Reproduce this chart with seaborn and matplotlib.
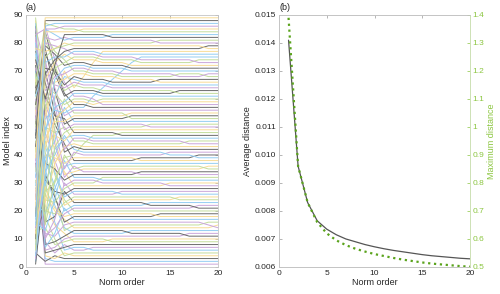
import numpy as np
import pandas as pd
import matplotlib
matplotlib.use("Agg")
import matplotlib.pyplot as plt
import seaborn as sns

# --- DATA ---
norm_order = list(range(1, 21))

# panel (b)
avg_distance = [0.0141, 0.0096, 0.0083, 0.00765, 0.00735, 0.00715, 0.0070, 0.0069,
                0.0068, 0.00672, 0.00665, 0.00659, 0.00654, 0.00649, 0.00644,
                0.0064, 0.00637, 0.00634, 0.00631, 0.00629]
max_distance = [1.39, 0.86, 0.73, 0.66, 0.62, 0.595, 0.578, 0.565, 0.555, 0.546,
                0.539, 0.532, 0.526, 0.521, 0.516, 0.512, 0.509, 0.506, 0.503, 0.501]

# panel (a): rank of each model (models numbered by their rank at norm order 5)
rank_p1 = [44, 70, 5, 88, 21, 60, 2, 37, 79, 13,
           52, 28, 66, 9, 84, 33, 48, 1, 75, 19,
           57, 40, 86, 11, 63, 26, 49, 72, 7, 35,
           81, 16, 54, 42, 69, 3, 23, 77, 30, 59,
           14, 87, 46, 67, 25, 38, 80, 10, 56, 31,
           73, 4, 62, 20, 45, 85, 29, 51, 12, 68,
           36, 76, 18, 55, 41, 82, 8, 64, 27, 50,
           71, 15, 58, 34, 89, 24, 61, 43, 78, 6,
           53, 32, 74, 22, 65, 83, 17, 47, 39]
rank_p2 = [1, 3, 2, 4, 18, 9, 30, 5, 22, 14,
           6, 35, 8, 26, 41, 12, 7, 33, 28, 45,
           11, 38, 16, 52, 20, 10, 43, 31, 57, 24,
           48, 13, 37, 62, 27, 55, 19, 66, 40, 15,
           58, 34, 70, 23, 50, 74, 29, 61, 44, 17,
           68, 39, 78, 46, 25, 72, 53, 84, 36, 64,
           86, 49, 76, 42, 81, 59, 32, 71, 54, 83,
           63, 47, 79, 67, 56, 80, 73, 69, 77, 75,
           82, 85, 60, 84, 87, 85, 86, 88, 89]
rank_p3 = [1, 2, 4, 3, 10, 5, 16, 6, 15, 8,
           7, 22, 9, 20, 26, 11, 12, 25, 21, 33,
           14, 29, 18, 36, 19, 17, 34, 27, 41, 23,
           38, 24, 35, 46, 30, 44, 28, 51, 39, 31,
           49, 40, 55, 37, 48, 58, 42, 54, 47, 43,
           59, 45, 63, 52, 50, 64, 56, 71, 53, 62,
           74, 57, 69, 60, 72, 65, 61, 70, 66, 77,
           68, 67, 76, 73, 71, 79, 75, 74, 78, 78,
           81, 83, 72, 84, 86, 85, 87, 88, 89]
rank_p4 = [1, 2, 3, 5, 4, 8, 6, 7, 12, 9,
           10, 14, 11, 17, 13, 15, 21, 16, 18, 24,
           19, 20, 27, 22, 23, 30, 25, 26, 34, 28,
           29, 38, 31, 33, 40, 32, 36, 44, 37, 39,
           35, 47, 41, 43, 50, 42, 46, 53, 45, 48,
           49, 57, 51, 52, 60, 54, 55, 62, 56, 58,
           66, 59, 61, 70, 63, 64, 68, 65, 67, 74,
           69, 71, 72, 76, 73, 78, 75, 77, 80, 79,
           82, 81, 83, 84, 85, 86, 87, 88, 89]
# reorderings after norm order 5: (norm order, from rank, to rank)
rank_moves = [(6, 64, 68), (7, 68, 73), (8, 73, 77),
              (7, 57, 61), (8, 61, 64), (9, 64, 67), (10, 67, 70), (11, 70, 73), (12, 73, 75),
              (9, 82, 83), (14, 80, 81), (19, 78, 79), (14, 66, 67), (16, 68, 69),
              (19, 68, 69), (6, 84, 85), (8, 60, 58), (11, 55, 53), (13, 50, 51),
              (6, 40, 44), (7, 44, 47), (6, 36, 34), (8, 30, 32), (10, 27, 26),
              (12, 38, 39), (15, 40, 41), (17, 44, 45), (18, 39, 40), (13, 22, 23),
              (16, 24, 25), (18, 21, 22), (19, 15, 16), (11, 12, 13), (14, 18, 19),
              (9, 9, 10), (17, 11, 12), (20, 14, 15), (7, 6, 7), (12, 33, 34),
              (15, 29, 30), (19, 35, 36), (10, 47, 48), (16, 62, 63), (18, 74, 73)]

line_colors = ["#c3dd9c", "#caa6da", "#93cdf2", "#6a6a6a", "#f8dc96"]

# --- BUILD RANK TABLE ---
n_models = len(rank_p4)
early = [rank_p1, rank_p2, rank_p3, rank_p4]
order = list(range(1, n_models + 1))
rows = []
for m in range(1, n_models + 1):
    for i, rk in enumerate(early):
        rows.append((i + 1, rk[m - 1], m))
for p in norm_order[4:]:
    for ep, a, b in rank_moves:
        if ep == p:
            mid = order.pop(a - 1)
            order.insert(b - 1, mid)
    for r, m in enumerate(order):
        rows.append((p, r + 1, m))
df = pd.DataFrame(rows, columns=["Norm", "Rank", "Model"])
palette = {m: line_colors[m % 5] for m in range(1, n_models + 1)}

# --- STYLE ---
sns.set_theme(style="white")
plt.rcParams["font.family"] = ["Liberation Sans", "DejaVu Sans"]
plt.rcParams["xtick.direction"] = "in"
plt.rcParams["ytick.direction"] = "in"
spine_col = "#c4c4c4"
text_col = "#262626"
green_txt = "#8cc641"
green_line = "#5aa31c"

fig = plt.figure(figsize=(5.0, 2.94), dpi=100)
ax1 = fig.add_axes([0.052, 0.092, 0.384, 0.857])
ax2 = fig.add_axes([0.558, 0.092, 0.382, 0.857])

# panel (a)
sns.lineplot(data=df, x="Norm", y="Rank", hue="Model", palette=palette, legend=False,
             estimator=None, linewidth=0.7, ax=ax1)
ax1.set_xlim(0, 20)
ax1.set_ylim(0, 90)
ax1.set_yticks(range(0, 91, 10))
ax1.set_xticks(range(0, 21, 5))
ax1.set_xlabel("Norm order", fontsize=6.5, color=text_col, labelpad=1)
ax1.set_ylabel("Model index", fontsize=6.5, color=text_col, labelpad=1)
ax1.text(0.0, 1.02, "(a)", transform=ax1.transAxes, fontsize=6.5, color=text_col)

# panel (b)
sns.lineplot(x=norm_order, y=avg_distance, color="#555555", linewidth=0.9, ax=ax2)
ax2.set_xlim(0, 20)
ax2.set_ylim(0.006, 0.015)
ax2.set_yticks(np.arange(0.006, 0.0151, 0.001))
ax2.set_yticklabels(["%.3f" % v for v in np.arange(0.006, 0.0151, 0.001)])
ax2.set_xticks(range(0, 21, 5))
ax2.set_xlabel("Norm order", fontsize=6.5, color=text_col, labelpad=1)
ax2.set_ylabel("Average distance", fontsize=6.5, color=text_col, labelpad=2)
ax2.text(0.0, 1.02, "(b)", transform=ax2.transAxes, fontsize=6.5, color=text_col)

ax3 = ax2.twinx()
sns.lineplot(x=norm_order, y=max_distance, color=green_line, linewidth=1.6,
             linestyle=":", ax=ax3)
ax3.set_ylim(0.5, 1.4)
ticks3 = [0.5, 0.6, 0.7, 0.8, 0.9, 1.0, 1.1, 1.2, 1.3, 1.4]
ax3.set_yticks(ticks3)
ax3.set_yticklabels([("%g" % t) for t in ticks3])
ax3.set_ylabel("Maximum distance", fontsize=6.5, color=green_txt, labelpad=2)
ax3.tick_params(axis="y", colors=green_txt, labelsize=6, length=2.5, width=0.5, pad=2)

for ax in (ax1, ax2, ax3):
    for s in ax.spines.values():
        s.set_color(spine_col)
        s.set_linewidth(0.6)
for ax in (ax1, ax2):
    ax.tick_params(axis="both", labelsize=6, labelcolor=text_col, color="#999999",
                   length=2.5, width=0.5, pad=2, top=True)
ax1.tick_params(axis="y", right=True)
ax3.spines["right"].set_color("#cfe6b3")

fig.savefig("out.png", dpi=100)
